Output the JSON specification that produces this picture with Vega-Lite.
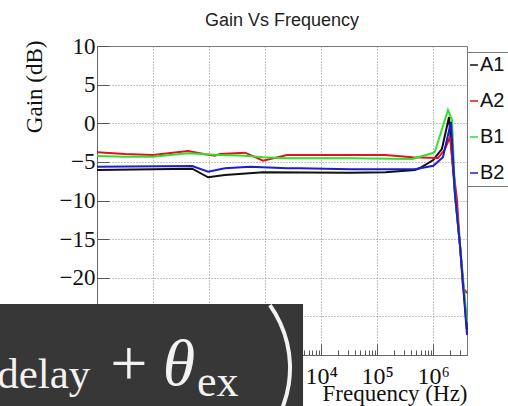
{
  "$schema": "https://vega.github.io/schema/vega-lite/v6.json",
  "width": 370,
  "height": 309,
  "autosize": {"type": "none"},
  "padding": {"left": 97, "top": 46, "right": 41, "bottom": 51},
  "background": "white",
  "title": {"text": "Gain Vs Frequency", "font": "Liberation Sans", "fontSize": 18, "fontWeight": "normal", "color": "#222", "anchor": "middle", "baseline": "bottom", "offset": -13},
  "config": {"view": {"stroke": "#777", "strokeWidth": 1}},
  "resolve": {"scale": {"x": "independent", "y": "independent"}, "axis": {"x": "independent", "y": "independent"}},
  "datasets": {
    "curves": [
      {"s": "A1", "f": 1, "g": -6.05}, {"s": "A1", "f": 10, "g": -5.95}, {"s": "A1", "f": 50, "g": -5.88}, {"s": "A1", "f": 96, "g": -7.0}, {"s": "A1", "f": 192, "g": -6.7}, {"s": "A1", "f": 920, "g": -6.35}, {"s": "A1", "f": 32700, "g": -6.4}, {"s": "A1", "f": 140000, "g": -6.35}, {"s": "A1", "f": 470000, "g": -6.05}, {"s": "A1", "f": 580000, "g": -5.8}, {"s": "A1", "f": 1000000, "g": -4.76}, {"s": "A1", "f": 1430000, "g": -3.3}, {"s": "A1", "f": 1910000, "g": 0.81}, {"s": "A1", "f": 2450000, "g": -9.3}, {"s": "A1", "f": 3000000, "g": -15.8}, {"s": "A1", "f": 4000000, "g": -26.8},
      {"s": "A2", "f": 1, "g": -3.76}, {"s": "A2", "f": 3.2, "g": -3.98}, {"s": "A2", "f": 10, "g": -4.11}, {"s": "A2", "f": 42, "g": -3.59}, {"s": "A2", "f": 85, "g": -4.02}, {"s": "A2", "f": 127, "g": -4.2}, {"s": "A2", "f": 157, "g": -3.98}, {"s": "A2", "f": 440, "g": -3.81}, {"s": "A2", "f": 920, "g": -4.85}, {"s": "A2", "f": 2450, "g": -4.11}, {"s": "A2", "f": 140000, "g": -4.11}, {"s": "A2", "f": 420000, "g": -4.4}, {"s": "A2", "f": 1220000, "g": -4.5}, {"s": "A2", "f": 1600000, "g": -3.4}, {"s": "A2", "f": 1990000, "g": -1.78}, {"s": "A2", "f": 2250000, "g": -5.66}, {"s": "A2", "f": 2650000, "g": -9.9}, {"s": "A2", "f": 3000000, "g": -15.8}, {"s": "A2", "f": 3400000, "g": -21.3}, {"s": "A2", "f": 4000000, "g": -22.0},
      {"s": "B1", "f": 1, "g": -4.24}, {"s": "B1", "f": 3.2, "g": -4.33}, {"s": "B1", "f": 10, "g": -4.33}, {"s": "B1", "f": 42, "g": -3.89}, {"s": "B1", "f": 85, "g": -4.0}, {"s": "B1", "f": 157, "g": -4.11}, {"s": "B1", "f": 440, "g": -4.2}, {"s": "B1", "f": 920, "g": -4.41}, {"s": "B1", "f": 2450, "g": -4.54}, {"s": "B1", "f": 32700, "g": -4.54}, {"s": "B1", "f": 420000, "g": -4.63}, {"s": "B1", "f": 950000, "g": -3.89}, {"s": "B1", "f": 1070000, "g": -3.68}, {"s": "B1", "f": 1830000, "g": 1.72}, {"s": "B1", "f": 2160000, "g": 0.42}, {"s": "B1", "f": 2450000, "g": -9.3}, {"s": "B1", "f": 3000000, "g": -15.8}, {"s": "B1", "f": 4000000, "g": -25.7},
      {"s": "B2", "f": 1, "g": -5.62}, {"s": "B2", "f": 50, "g": -5.53}, {"s": "B2", "f": 96, "g": -6.27}, {"s": "B2", "f": 192, "g": -5.83}, {"s": "B2", "f": 540, "g": -5.62}, {"s": "B2", "f": 2450, "g": -5.83}, {"s": "B2", "f": 4200, "g": -5.83}, {"s": "B2", "f": 32700, "g": -5.96}, {"s": "B2", "f": 470000, "g": -5.96}, {"s": "B2", "f": 1000000, "g": -5.5}, {"s": "B2", "f": 1490000, "g": -4.4}, {"s": "B2", "f": 2070000, "g": 0.16}, {"s": "B2", "f": 2450000, "g": -9.3}, {"s": "B2", "f": 3000000, "g": -15.8}, {"s": "B2", "f": 4000000, "g": -27.4}
    ]
  },
  "layer": [
    {
      "data": {"name": "curves"},
      "mark": {"type": "line", "strokeWidth": 2},
      "encoding": {
        "x": {
          "field": "f", "type": "quantitative",
          "scale": {"type": "log", "domain": [1, 4000000], "nice": false},
          "axis": {
            "orient": "bottom",
            "values": [1,2,3,4,5,6,7,8,9,10,20,30,40,50,60,70,80,90,100,200,300,400,500,600,700,800,900,1000,2000,3000,4000,5000,6000,7000,8000,9000,10000,20000,30000,40000,50000,60000,70000,80000,90000,100000,200000,300000,400000,500000,600000,700000,800000,900000,1000000,2000000,3000000],
            "labelExpr": "abs(log(datum.value)/LN10 - round(log(datum.value)/LN10)) < 0.01 ? '10' + ['⁰','¹','²','³','⁴','⁵','⁶'][round(log(datum.value)/LN10)] : ''",
            "labelFont": "Liberation Serif", "labelFontSize": 24, "labelColor": "#111",
            "labelFlush": false, "labelOverlap": false, "labelBound": false,
            "labelPadding": 20,
            "tickSize": {"condition": {"test": "abs(log(datum.value)/LN10 - round(log(datum.value)/LN10)) < 0.01", "value": -11}, "value": -5},
            "tickColor": "#555",
            "grid": true, "gridDash": [1, 2], "gridColor": "#888",
            "gridOpacity": {"condition": {"test": "abs(log(datum.value)/LN10 - round(log(datum.value)/LN10)) < 0.01", "value": 1}, "value": 0},
            "domainColor": "#666",
            "title": "Frequency (Hz)", "titleFont": "Liberation Serif", "titleFontSize": 23, "titleFontWeight": "normal", "titleColor": "#111",
            "titleAnchor": "end", "titleAlign": "right", "titleBaseline": "alphabetic", "titleX": 370, "titleY": 45
          }
        },
        "y": {
          "field": "g", "type": "quantitative",
          "scale": {"domain": [-30, 10], "nice": false},
          "axis": {
            "orient": "left",
            "values": [-30, -25, -20, -15, -10, -5, 0, 5, 10],
            "format": "d",
            "labelFont": "Liberation Serif", "labelFontSize": 23, "labelColor": "#111",
            "labelFlush": false, "labelOverlap": false, "labelPadding": 14,
            "tickSize": -12, "tickColor": "#555",
            "grid": true, "gridDash": [1, 2], "gridColor": "#888",
            "domainColor": "#666",
            "title": "Gain (dB)", "titleFont": "Liberation Serif", "titleFontSize": 23, "titleFontWeight": "normal", "titleColor": "#111",
            "titleAnchor": "end", "titleAngle": -90, "titleAlign": "right", "titleBaseline": "alphabetic", "titleX": -56, "titleY": -6
          }
        },
        "color": {
          "field": "s", "type": "nominal",
          "scale": {"domain": ["A1", "A2", "B1", "B2"], "range": ["#111111", "#e3121b", "#2fe02f", "#1c1cd0"]},
          "legend": {"title": null, "orient": "none", "legendX": 370, "legendY": 6, "padding": 3, "symbolType": "stroke", "symbolSize": 64, "symbolStrokeWidth": 1.5, "symbolOffset": -6, "labelFont": "Liberation Sans", "labelFontSize": 20, "labelColor": "#111", "rowPadding": 16, "labelOffset": -4, "strokeColor": "#777", "fillColor": "white"}
        }
      }
    },
    {
      "data": {"values": [{"f": 0.01, "f2": 4750, "g": -23.4, "g2": -40}]},
      "mark": {"type": "rect", "color": "#373737"},
      "encoding": {
        "x": {"field": "f", "type": "quantitative", "scale": {"type": "log", "domain": [1, 4000000], "nice": false}, "axis": null},
        "x2": {"field": "f2"},
        "y": {"field": "g", "type": "quantitative", "scale": {"domain": [-30, 10], "nice": false}, "axis": null},
        "y2": {"field": "g2"}
      }
    },
    {
      "data": {"values": [{"t": "delay", "f": 0.0166, "g": -34.27}]},
      "mark": {"type": "text", "font": "Liberation Serif", "fontSize": 43, "align": "left", "baseline": "alphabetic", "color": "#f2f2f2"},
      "encoding": {
        "x": {"field": "f", "type": "quantitative", "scale": {"type": "log", "domain": [1, 4000000], "nice": false}, "axis": null},
        "y": {"field": "g", "type": "quantitative", "scale": {"domain": [-30, 10], "nice": false}, "axis": null},
        "text": {"field": "t"}
      }
    },
    {
      "data": {"values": [{"t": "+", "f": 3.72, "g": -33.88}]},
      "mark": {"type": "text", "font": "Liberation Serif", "fontSize": 66, "align": "center", "baseline": "alphabetic", "color": "#f2f2f2"},
      "encoding": {
        "x": {"field": "f", "type": "quantitative", "scale": {"type": "log", "domain": [1, 4000000], "nice": false}, "axis": null},
        "y": {"field": "g", "type": "quantitative", "scale": {"domain": [-30, 10], "nice": false}, "axis": null},
        "text": {"field": "t"}
      }
    },
    {
      "data": {"values": [{"t": "θ", "f": 29.1, "g": -33.88}]},
      "mark": {"type": "text", "font": "Liberation Serif", "fontSize": 66, "fontStyle": "italic", "align": "center", "baseline": "alphabetic", "color": "#f2f2f2"},
      "encoding": {
        "x": {"field": "f", "type": "quantitative", "scale": {"type": "log", "domain": [1, 4000000], "nice": false}, "axis": null},
        "y": {"field": "g", "type": "quantitative", "scale": {"domain": [-30, 10], "nice": false}, "axis": null},
        "text": {"field": "t"}
      }
    },
    {
      "data": {"values": [{"t": "ex", "f": 60.9, "g": -35.31}]},
      "mark": {"type": "text", "font": "Liberation Serif", "fontSize": 44, "align": "left", "baseline": "alphabetic", "color": "#f2f2f2"},
      "encoding": {
        "x": {"field": "f", "type": "quantitative", "scale": {"type": "log", "domain": [1, 4000000], "nice": false}, "axis": null},
        "y": {"field": "g", "type": "quantitative", "scale": {"domain": [-30, 10], "nice": false}, "axis": null},
        "text": {"field": "t"}
      }
    },
    {
      "data": {"values": [{"f": 32.9, "g": -31.68}]},
      "mark": {"type": "arc", "radius": 110, "radius2": 106, "theta": 0.95, "theta2": 2.5, "fill": "#f2f2f2"},
      "encoding": {
        "x": {"field": "f", "type": "quantitative", "scale": {"type": "log", "domain": [1, 4000000], "nice": false}, "axis": null},
        "y": {"field": "g", "type": "quantitative", "scale": {"domain": [-30, 10], "nice": false}, "axis": null}
      }
    }
  ]
}
